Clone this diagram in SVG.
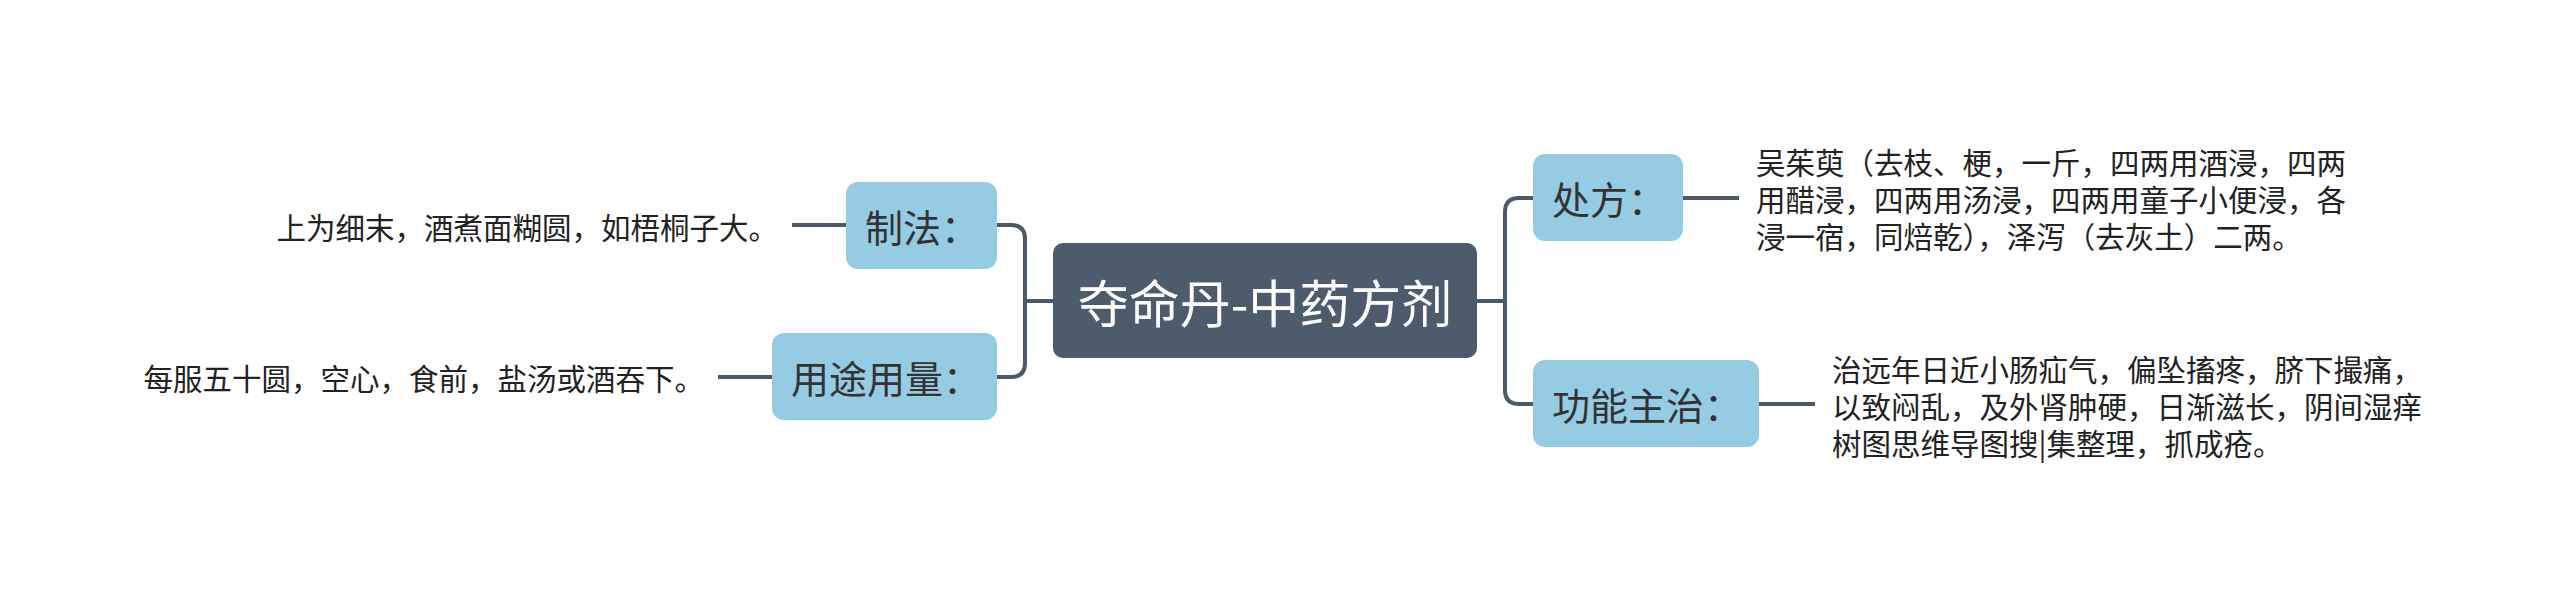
<svg xmlns="http://www.w3.org/2000/svg" width="2560" height="602" viewBox="0 0 2560 602">
<style>
.conn{fill:none;stroke:#4B5968;stroke-width:4;stroke-linecap:butt}
.center{fill:#4C5C6C}
.branch{fill:#96CBE4}
.ct{font-family:"Noto Sans CJK SC","Noto Sans",sans-serif;font-size:51px;fill:#ffffff;dominant-baseline:central}
.lb{font-family:"Noto Sans CJK SC","Noto Sans",sans-serif;font-size:38px;fill:#333333;dominant-baseline:central}
.tx{font-family:"Noto Sans CJK SC","Noto Sans",sans-serif;font-size:29.5px;fill:#222222;dominant-baseline:central}
</style>
<rect width="2560" height="602" fill="#ffffff"/>
<g id="connectors">
<path class="conn" d="M1477 301 H1505 V212 Q1505 198 1519 198 H1533"/>
<path class="conn" d="M1477 301 H1505 V390 Q1505 404 1519 404 H1533"/>
<path class="conn" d="M1683 198 H1739"/>
<path class="conn" d="M1759 404 H1815"/>
<path class="conn" d="M1053 301 H1025 V239 Q1025 225 1011 225 H997"/>
<path class="conn" d="M1053 301 H1025 V363 Q1025 377 1011 377 H997"/>
<path class="conn" d="M846 225 H792"/>
<path class="conn" d="M772 377 H718"/>
</g>
<g id="center">
<rect class="center" x="1053" y="243" width="424" height="115" rx="10"/>
<text class="ct" x="1265" y="300.5" text-anchor="middle">夺命丹-中药方剂</text>
</g>
<g id="chufang">
<rect class="branch" x="1533" y="154" width="150" height="87" rx="12"/>
<text class="lb" x="1552" y="197.5">处方：</text>
</g>
<g id="chufang-text">
<text class="tx" x="1756" y="160.5">吴茱萸（去枝、梗，一斤，四两用酒浸，四两</text>
<text class="tx" x="1756" y="197.5">用醋浸，四两用汤浸，四两用童子小便浸，各</text>
<text class="tx" x="1756" y="234.5">浸一宿，同焙乾），泽泻（去灰土）二两。</text>
</g>
<g id="gongneng">
<rect class="branch" x="1533" y="360" width="226" height="87" rx="12"/>
<text class="lb" x="1552" y="403.5">功能主治：</text>
</g>
<g id="gongneng-text">
<text class="tx" x="1832" y="367.5">治远年日近小肠疝气，偏坠搐疼，脐下撮痛，</text>
<text class="tx" x="1832" y="404.5">以致闷乱，及外肾肿硬，日渐滋长，阴间湿痒</text>
<text class="tx" x="1832" y="441.5">树图思维导图搜|集整理，抓成疮。</text>
</g>
<g id="zhifa">
<rect class="branch" x="846" y="182" width="151" height="87" rx="12"/>
<text class="lb" x="865" y="225.5">制法：</text>
</g>
<g id="zhifa-text">
<text class="tx" x="778" y="225.5" text-anchor="end">上为细末，酒煮面糊圆，如梧桐子大。</text>
</g>
<g id="yongtu">
<rect class="branch" x="772" y="333" width="225" height="87" rx="12"/>
<text class="lb" x="791" y="376.5">用途用量：</text>
</g>
<g id="yongtu-text">
<text class="tx" x="704" y="376.5" text-anchor="end">每服五十圆，空心，食前，盐汤或酒吞下。</text>
</g>
</svg>
